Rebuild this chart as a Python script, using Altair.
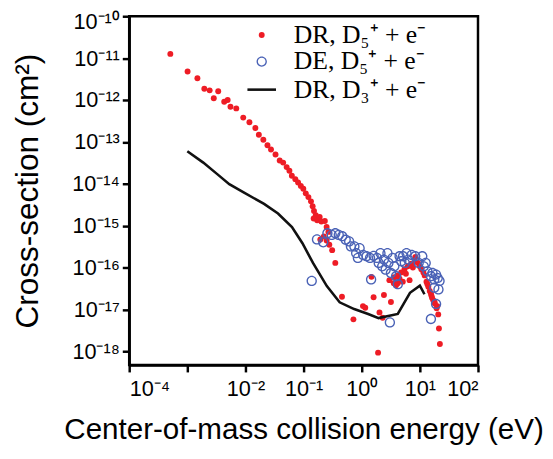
import json
import math
import altair as alt
import pandas as pd

# ---- data ----
DR5_E = [5.1e-4, 1.01e-3, 1.49e-3, 1.96e-3, 2.42e-3, 3.40e-3, 2.85e-3, 4.31e-3, 4.94e-3, 5.52e-3,
         6.95e-3, 9.16e-3, 1.17e-2, 1.48e-2, 1.70e-2, 2.03e-2, 2.39e-2, 2.75e-2, 3.29e-2, 3.88e-2,
         4.45e-2, 5.11e-2, 5.70e-2, 6.28e-2, 7.21e-2, 8.04e-2, 8.97e-2, 9.89e-2, 0.109, 0.121,
         0.134, 0.143, 0.151, 0.162, 0.149, 0.171, 0.189, 0.202, 0.232, 0.249,
         0.267, 0.223, 0.194, 0.249, 0.277, 0.31, 0.351, 0.457, 0.72, 1.05,
         1.15, 1.60, 2.41, 2.02, 3.18, 2.29, 1.91, 1.47, 2.99, 3.56,
         3.65, 4.17, 4.17, 4.76, 5.09, 5.44, 6.22, 6.65, 7.09, 8.13,
         8.36, 9.29, 9.93, 10.6, 12.1, 13.0, 14.0, 14.8, 15.8, 17.0,
         18.1, 19.4, 20.7, 21.3, 22.1, 3.89, 4.47, 5.75, 7.59, 11.5,
         13.5, 15.5, 16.2, 17.8, 20.0]
DR5_S = [1.26e-11, 4.8e-12, 3.3e-12, 1.86e-12, 1.70e-12, 1.62e-12, 1.10e-12, 9.1e-13, 1.0e-12, 6.9e-13,
         6.3e-13, 3.8e-13, 2.95e-13, 2.14e-13, 1.48e-13, 1.12e-13, 8.3e-14, 6.6e-14, 5.0e-14, 3.6e-14,
         3.2e-14, 2.5e-14, 2.04e-14, 1.55e-14, 1.29e-14, 1.07e-14, 8.9e-15, 7.6e-15, 5.9e-15, 4.8e-15,
         3.8e-15, 2.9e-15, 2.24e-15, 1.78e-15, 1.48e-15, 1.35e-15, 1.62e-15, 1.26e-15, 1.29e-15, 9.3e-16,
         7.1e-16, 5.5e-16, 4.7e-16, 4.4e-16, 3.5e-16, 2.6e-16, 1.29e-16, 2.0e-17, 5.8e-18, 1.2e-17,
         1.1e-17, 1.95e-17, 2.2e-17, 8.5e-18, 1.5e-17, 6.3e-18, 9.3e-19, 6.0e-17, 5.0e-17, 4.2e-17,
         5.9e-17, 4.2e-17, 6.5e-17, 7.6e-17, 4.6e-17, 9.1e-17, 1.07e-16, 5.0e-17, 1.23e-16, 1.38e-16,
         1.78e-16, 1.29e-16, 1.07e-16, 9.1e-17, 6.5e-17, 4.6e-17, 3.5e-17, 2.75e-17, 2.14e-17, 1.66e-17,
         1.38e-17, 1.07e-17, 7.6e-18, 3.5e-18, 1.5e-18, 3.8e-17, 5.4e-17, 7.1e-17, 1.0e-16, 7.6e-17,
         4.0e-17, 2.4e-17, 1.9e-17, 1.5e-17, 1.2e-17]

DE5_E = [0.138, 0.170, 0.218, 0.257, 0.305, 0.351, 0.403, 0.462, 0.530, 0.608,
         0.652, 0.748, 0.802, 0.920, 0.859, 1.06, 1.21, 1.39, 1.60, 1.45,
         1.83, 2.10, 1.96, 2.25, 2.41, 2.58, 2.88, 3.18, 3.05, 3.40,
         3.64, 3.90, 4.18, 4.48, 4.80, 5.14, 5.51, 5.89, 6.31, 7.24,
         8.32, 9.53, 11.0, 11.7, 12.6, 13.5, 15.5, 16.5, 17.7, 19.0,
         20.3, 21.8, 20.9, 17.7, 15.5, 19.0, 2.77]
DE5_S = [4.8e-17, 4.7e-16, 4.0e-16, 6.6e-16, 6.0e-16, 6.6e-16, 6.0e-16, 5.6e-16, 4.6e-16, 4.2e-16,
         3.2e-16, 3.2e-16, 2.2e-16, 2.9e-16, 1.7e-16, 2.0e-16, 1.86e-16, 1.7e-16, 1.9e-16, 5.2e-17,
         1.7e-16, 2.2e-16, 1.29e-16, 1.07e-16, 1.55e-16, 8.9e-17, 1.29e-16, 7.4e-17, 4.9e-18, 1.7e-16,
         1.07e-16, 6.2e-17, 4.0e-17, 1.86e-16, 1.41e-16, 1.86e-16, 1.29e-16, 2.2e-16, 1.55e-16, 2.0e-16,
         1.86e-16, 1.29e-16, 1.86e-16, 1.07e-16, 1.29e-16, 8.1e-17, 6.2e-17, 7.4e-17, 5.2e-17, 6.8e-17,
         5.6e-17, 4.8e-17, 3.0e-17, 3.3e-17, 5.9e-18, 1.35e-17, 2.2e-16]

DR3_E = [1.0e-3, 1.88e-3, 3.27e-3, 5.27e-3, 9.14e-3, 2.09e-2, 3.63e-2, 6.31e-2, 9.55e-2, 0.145,
         0.251, 0.417, 0.741, 1.29, 1.95, 4.17, 6.76, 10.0, 12.0]
DR3_S = [6.0e-14, 3.2e-14, 1.7e-14, 9.8e-15, 6.3e-15, 3.3e-15, 1.95e-15, 9.3e-16, 3.8e-16, 1.29e-16,
         3.6e-17, 1.48e-17, 1.02e-17, 7.8e-18, 6.2e-18, 7.8e-18, 2.5e-17, 3.7e-17, 2.3e-17]

SERIES = ["DR, D\u2085\u207a + e\u207b", "DE, D\u2085\u207a + e\u207b", "DR, D\u2083\u207a + e\u207b"]
COLORS = ["#ee1c25", "#4a62b6", "#111111"]
# marker glyphs: filled dot, open ring, short bar (legend only for the line)
RING = ("M1,0A1,1,0,1,1,-1,0A1,1,0,1,1,1,0Z"
        "M0.74,0A0.74,0.74,0,1,0,-0.74,0A0.74,0.74,0,1,0,0.74,0Z")
BAR = "M-1,-0.09H1V0.09H-1Z"
SHAPES = ["circle", RING, BAR]
SIZES = [36, 110, 841]

X_TICKS = [1e-4, 1e-3, 1e-2, 1e-1, 1e0, 1e1, 1e2]
X_TICK_LABELS = ["10\u207b\u2074", "10\u207b\u00b3", "10\u207b\u00b2", "10\u207b\u00b9",
                 "10\u2070", "10\u00b9", "10\u00b2"]
Y_TICKS = [1e-18, 1e-17, 1e-16, 1e-15, 1e-14, 1e-13, 1e-12, 1e-11, 1e-10]
Y_TICK_LABELS = ["10\u207b\u00b9\u2078", "10\u207b\u00b9\u2077", "10\u207b\u00b9\u2076",
                 "10\u207b\u00b9\u2075", "10\u207b\u00b9\u2074", "10\u207b\u00b9\u00b3",
                 "10\u207b\u00b9\u00b2", "10\u207b\u00b9\u00b9", "10\u207b\u00b9\u2070"]

dr5 = pd.DataFrame({"E": DR5_E, "S": DR5_S, "series": SERIES[0]})
de5 = pd.DataFrame({"E": DE5_E, "S": DE5_S, "series": SERIES[1]})
dr3 = pd.DataFrame({"E": DR3_E, "S": DR3_S, "series": SERIES[2]})

x_off = -round(math.log10(X_TICKS[0]))
y_off = -round(math.log10(Y_TICKS[0]))
x_expr = f"{json.dumps(X_TICK_LABELS, ensure_ascii=False)}[round(log(datum.value)/LN10)+{x_off}]"
y_expr = f"{json.dumps(Y_TICK_LABELS, ensure_ascii=False)}[round(log(datum.value)/LN10)+{y_off}]"

x_enc = alt.X("E:Q", scale=alt.Scale(type="log", domain=[1e-4, 1e2], nice=False),
              axis=alt.Axis(values=X_TICKS, labelExpr=x_expr, labelPadding=7,
                            title="Center-of-mass collision energy (eV)", titlePadding=16,
                            titleFontSize=30))
y_enc = alt.Y("S:Q", scale=alt.Scale(type="log", domain=[4.7e-19, 1e-10], nice=False),
              axis=alt.Axis(values=Y_TICKS, labelExpr=y_expr,
                            labelOffset={"condition": {"test": "datum.value > 5e-11", "value": 5},
                                         "value": 0},
                            title="Cross-section (cm\u00b2)", titlePadding=28, titleFontSize=32))

legend = alt.Legend(
    orient="none", legendX=120, legendY=6, title=None,
    labelFont="Liberation Serif", labelFontSize=26, labelColor="black",
    labelOffset=18, rowPadding=1, symbolStrokeWidth=0, symbolOpacity=1,
)
color = alt.Color("series:N", scale=alt.Scale(domain=SERIES, range=COLORS), legend=legend)
shape = alt.Shape("series:N", scale=alt.Scale(domain=SERIES, range=SHAPES), legend=legend)
size = alt.Size("series:N", scale=alt.Scale(type="ordinal", domain=SERIES, range=SIZES),
                legend=legend)

red = alt.Chart(dr5).mark_point(filled=True, opacity=1, strokeWidth=0).encode(
    x=x_enc, y=y_enc, color=color, shape=shape, size=size)
blue = alt.Chart(de5).mark_point(filled=True, opacity=1, strokeWidth=0).encode(
    x=x_enc, y=y_enc, color=color, shape=shape, size=size)
line = alt.Chart(dr3).mark_line(strokeWidth=2.6).encode(x=x_enc, y=y_enc, color=color)

chart = alt.layer(red, blue, line).properties(
    width=354, height=354,
    padding={"left": 123, "top": 5, "right": 68, "bottom": 92},
    autosize=alt.AutoSizeParams(type="none"),
).configure_view(stroke="black", strokeWidth=2.5).configure_axis(
    grid=False, domainColor="black", domainWidth=2.5, tickColor="black", tickWidth=2.5,
    tickSize=7, labelFont="Liberation Sans", labelFontSize=22, labelColor="black",
    labelPadding=3, titleFont="Liberation Sans", titleFontWeight="normal",
    titleColor="black",
).configure_legend(padding=0)

chart.save("out.html", embed_options={"renderer": "svg", "actions": False})
